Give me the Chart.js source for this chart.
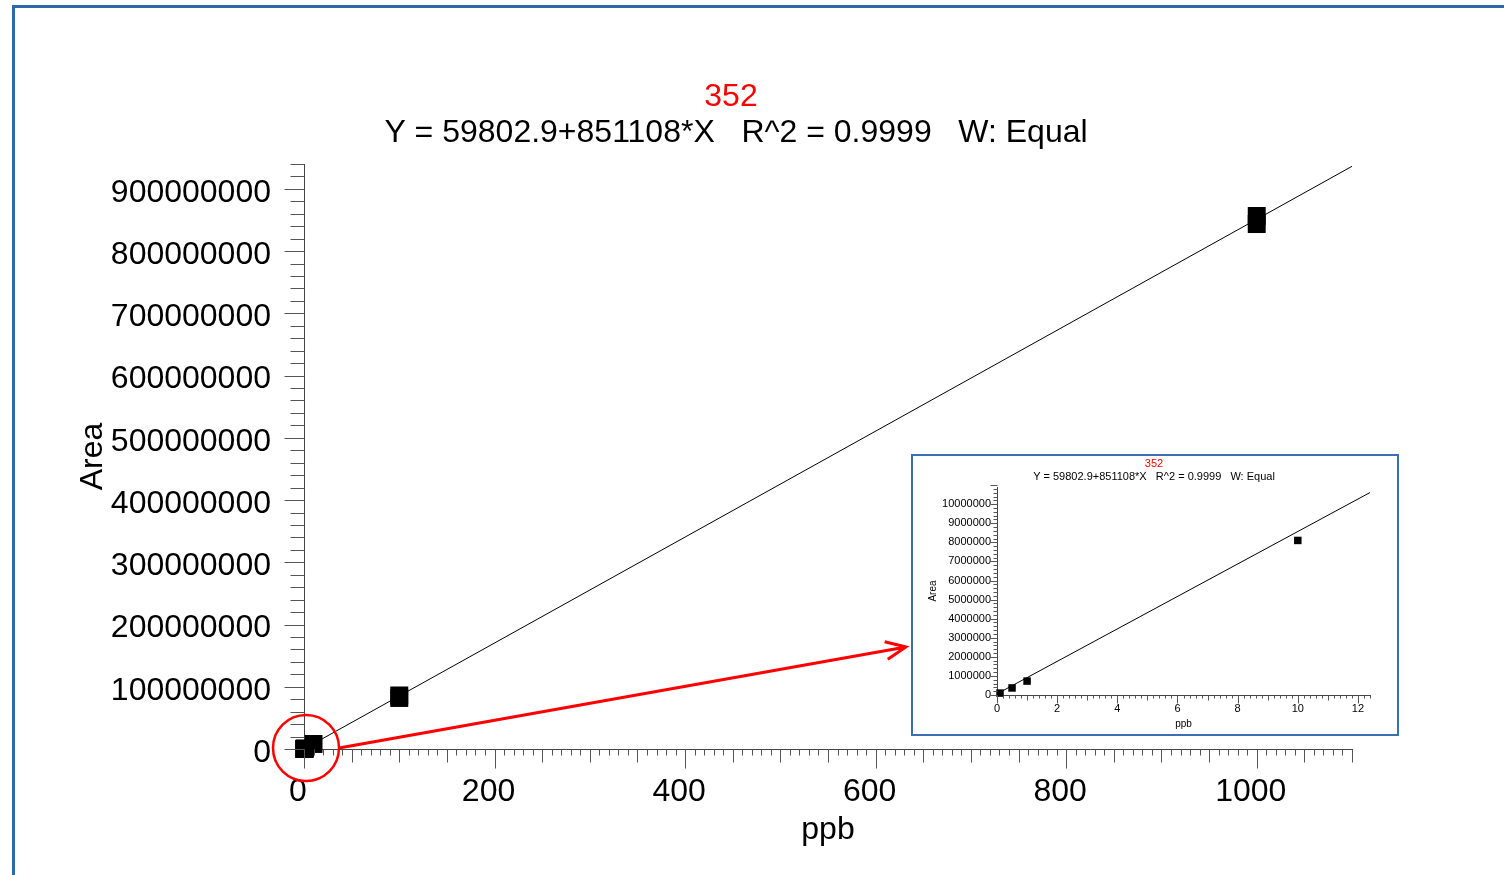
<!DOCTYPE html>
<html>
<head>
<meta charset="utf-8">
<script src="https://cdn.jsdelivr.net/npm/chart.js@4.4.0/dist/chart.umd.min.js"></script>
<style>
  body { margin: 0; background: #fff; overflow: hidden; }
  #frame { position: absolute; left: 12px; top: 5px; width: 1600px; height: 1000px; border-left: 3px solid #2f69a8; border-top: 3px solid #2f69a8; }
  #main { position: absolute; left: 0; top: 0; }
  #inset { position: absolute; left: 911px; top: 454px; width: 484px; height: 278px; border: 2px solid #3b6fb0; background: #fff; }
</style>
</head>
<body>
<div id="frame"></div>
<canvas id="main" width="1504" height="875"></canvas>
<div id="inset"><canvas id="insetChart" width="484" height="278"></canvas></div>
<script>
// Curva de calibración 352 (ppb vs Area)
const ppb = [0.1, 0.5, 1, 10, 100, 100, 1000, 1000];
const area = [100000, 370000, 730000, 8100000, 86000000, 82000000, 856500000, 843500000];
const fitPpb = [0, 1100];
const fitArea = [60000, 936300000];
const xTickLabels = [0, 200, 400, 600, 800, 1000];
const yTickLabels = [0, 100000000, 200000000, 300000000, 400000000, 500000000, 600000000, 700000000, 800000000, 900000000];

// Zoom de la zona baja
const insetPpb = [0.1, 0.5, 1, 10];
const insetArea = [100000, 370000, 730000, 8100000];
const insetFitPpb = [0, 12.4];
const insetFitArea = [60000, 10610000];
const insetXTickLabels = [0, 2, 4, 6, 8, 10, 12];
const insetYTickLabels = [0, 1000000, 2000000, 3000000, 4000000, 5000000, 6000000, 7000000, 8000000, 9000000, 10000000];

const titleText = '352';
const equationText = 'Y = 59802.9+851108*X   R^2 = 0.9999   W: Equal';

const FONT = "'Liberation Sans', Arial, sans-serif";

function toPoints(xs, ys) {
  return xs.map((v, i) => ({ x: v, y: ys[i] }));
}

// Marcas de eje (menores / medias / mayores)
function tickMarks(o) {
  return {
    id: 'tickMarks',
    afterDraw(chart) {
      const { ctx, scales: { x, y } } = chart;
      const yLeft = Math.round(x.getPixelForValue(x.min)) + 0.5;
      const xBase = Math.round(y.getPixelForValue(y.min)) + 0.5;
      ctx.save();
      ctx.strokeStyle = '#555';
      ctx.lineWidth = 1;
      ctx.beginPath();
      const nx = Math.round((x.max - x.min) / o.xStep);
      for (let i = 0; i <= nx; i++) {
        const px = Math.round(x.getPixelForValue(x.min + i * o.xStep)) + 0.5;
        let len = o.xLen[0];
        if (i % o.xMajor === 0) len = o.xLen[2];
        else if (i % o.xMid === 0) len = o.xLen[1];
        ctx.moveTo(px, xBase);
        ctx.lineTo(px, xBase + len);
      }
      const ny = Math.round((y.max - y.min) / o.yStep);
      for (let i = 0; i <= ny; i++) {
        const py = Math.round(y.getPixelForValue(y.min + i * o.yStep)) + 0.5;
        const len = i % o.yMajor === 0 ? o.yLen[1] : o.yLen[0];
        ctx.moveTo(yLeft, py);
        ctx.lineTo(yLeft - len, py);
      }
      ctx.stroke();
      ctx.restore();
    }
  };
}

// Títulos (numero rojo + ecuación)
function titles(o) {
  return {
    id: 'titles',
    afterDraw(chart) {
      const ctx = chart.ctx;
      ctx.save();
      ctx.textAlign = 'center';
      ctx.textBaseline = 'middle';
      ctx.font = o.size + 'px ' + FONT;
      ctx.fillStyle = '#ff0000';
      ctx.fillText(titleText, o.cx1, o.y1);
      ctx.fillStyle = '#000';
      ctx.fillText(equationText, o.cx2, o.y2);
      ctx.restore();
    }
  };
}

// Círculo y flecha roja hacia el zoom
const marker = {
  id: 'marker',
  afterDraw(chart) {
    const { ctx, scales: { x, y } } = chart;
    const cx = x.getPixelForValue(0) + 2;
    const cy = y.getPixelForValue(0) - 1;
    const r = 33;
    ctx.save();
    ctx.strokeStyle = '#ff0000';
    ctx.lineWidth = 2.5;
    ctx.beginPath();
    ctx.arc(cx, cy, r, 0, Math.PI * 2);
    ctx.stroke();
    const sx = cx + r, sy = cy;
    const tx = 906, ty = 647;
    const ang = Math.atan2(ty - sy, tx - sx);
    ctx.lineWidth = 3;
    ctx.beginPath();
    ctx.moveTo(sx, sy);
    ctx.lineTo(tx, ty);
    ctx.moveTo(tx - 22 * Math.cos(ang - 0.42), ty - 22 * Math.sin(ang - 0.42));
    ctx.lineTo(tx, ty);
    ctx.lineTo(tx - 22 * Math.cos(ang + 0.42), ty - 22 * Math.sin(ang + 0.42));
    ctx.stroke();
    ctx.restore();
  }
};

const chart = new Chart(document.getElementById('main'), {
  type: 'scatter',
  data: {
    datasets: [{
      data: toPoints(ppb, area),
      pointStyle: 'rect',
      pointRadius: 12.7,
      pointBorderWidth: 0,
      backgroundColor: '#000',
      borderColor: '#000',
      clip: false
    }, {
      data: toPoints(fitPpb, fitArea),
      showLine: true,
      pointRadius: 0,
      borderColor: '#000',
      borderWidth: 1,
      clip: false
    }]
  },
  options: {
    responsive: false,
    animation: false,
    layout: { padding: { left: 68, top: 164, right: 152, bottom: 0 } },
    plugins: { legend: { display: false }, title: { display: false }, tooltip: { enabled: false } },
    scales: {
      x: {
        type: 'linear', min: 0, max: 1100,
        afterFit: s => { s.height = 126; },
        afterBuildTicks: s => { s.ticks = xTickLabels.map(v => ({ value: v })); },
        grid: { display: false, drawTicks: false },
        border: { display: true, color: '#444', width: 1 },
        ticks: { autoSkip: false, maxRotation: 0, padding: 24, labelOffset: -6, color: '#000', font: { family: FONT, size: 32 }, callback: v => String(v) },
        title: { display: true, text: 'ppb', color: '#000', font: { family: FONT, size: 32 }, padding: { top: 0, bottom: 26 } }
      },
      y: {
        type: 'linear', min: 0, max: 940000000,
        afterFit: s => { s.width = 236; },
        afterBuildTicks: s => { s.ticks = yTickLabels.map(v => ({ value: v })); },
        grid: { display: false, drawTicks: false },
        border: { display: true, color: '#444', width: 1 },
        ticks: { autoSkip: false, padding: 33, labelOffset: 4, color: '#000', font: { family: FONT, size: 32 }, callback: v => String(v) },
        title: { display: true, text: 'Area', color: '#000', font: { family: FONT, size: 32 }, padding: { top: 6, bottom: 0 } }
      }
    }
  },
  plugins: [
    tickMarks({ xStep: 10, xMid: 5, xMajor: 20, xLen: [6, 13, 19], yStep: 20000000, yMajor: 5, yLen: [14, 20] }),
    titles({ size: 32, cx1: 731, y1: 97, cx2: 736, y2: 133 }),
    marker
  ]
});

const insetChart = new Chart(document.getElementById('insetChart'), {
  type: 'scatter',
  data: {
    datasets: [{
      data: toPoints(insetPpb, insetArea),
      pointStyle: 'rect',
      pointRadius: 5.3,
      pointBorderWidth: 0,
      backgroundColor: '#000',
      borderColor: '#000',
      clip: false
    }, {
      data: toPoints(insetFitPpb, insetFitArea),
      showLine: true,
      pointRadius: 0,
      borderColor: '#000',
      borderWidth: 1,
      clip: false
    }]
  },
  options: {
    responsive: false,
    animation: false,
    layout: { padding: { left: 8, top: 31, right: 27, bottom: 0 } },
    plugins: { legend: { display: false }, title: { display: false }, tooltip: { enabled: false } },
    scales: {
      x: {
        type: 'linear', min: 0, max: 12.4,
        afterFit: s => { s.height = 39; },
        afterBuildTicks: s => { s.ticks = insetXTickLabels.map(v => ({ value: v })); },
        grid: { display: false, drawTicks: false },
        border: { display: true, color: '#444', width: 1 },
        ticks: { autoSkip: false, maxRotation: 0, padding: 7, color: '#000', font: { family: FONT, size: 11 }, callback: v => String(v) },
        title: { display: true, text: 'ppb', color: '#000', font: { family: FONT, size: 10 }, padding: { top: 0, bottom: 4 } }
      },
      y: {
        type: 'linear', min: 0, max: 10900000,
        afterFit: s => { s.width = 76; },
        afterBuildTicks: s => { s.ticks = insetYTickLabels.map(v => ({ value: v })); },
        grid: { display: false, drawTicks: false },
        border: { display: true, color: '#444', width: 1 },
        ticks: { autoSkip: false, padding: 6, color: '#000', font: { family: FONT, size: 11 }, callback: v => String(v) },
        title: { display: true, text: 'Area', color: '#000', font: { family: FONT, size: 10 }, padding: { top: 6, bottom: 0 } }
      }
    }
  },
  plugins: [
    tickMarks({ xStep: 0.2, xMid: 5, xMajor: 10, xLen: [3, 5, 8], yStep: 200000, yMajor: 5, yLen: [4, 7] }),
    titles({ size: 11, cx1: 241, y1: 8, cx2: 241, y2: 21 })
  ]
});
</script>
</body>
</html>
